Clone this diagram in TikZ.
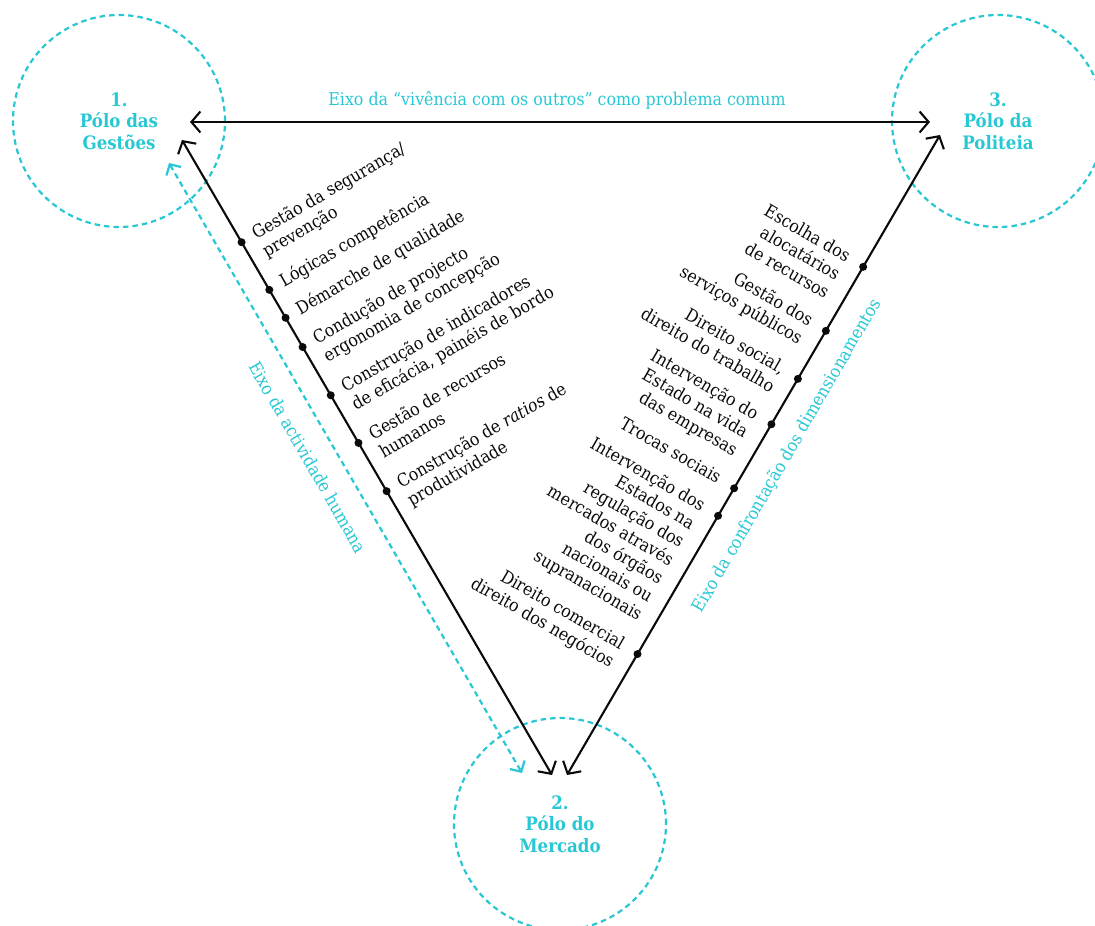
\documentclass[tikz,border=0pt]{standalone}
\usepackage{fontspec}
\IfFontExistsTF{DejaVu Serif Condensed}{%
  \setmainfont{DejaVu Serif Condensed}\def\labsize{17.6}\def\polesize{18.5}}{%
  \setmainfont{DejaVu Serif}\def\labsize{16}\def\polesize{16.5}}
\usetikzlibrary{arrows.meta,calc}
\definecolor{polecyan}{RGB}{40,199,212}
\definecolor{ink}{RGB}{10,10,10}
\begin{document}
\begin{tikzpicture}[x=1pt,y=1pt,
  pole/.style={circle, draw=polecyan, line width=2.2pt, dash pattern=on 5.5pt off 4pt,
    minimum size=212pt, inner sep=0pt, text=polecyan,
    font=\bfseries\fontsize{\polesize}{21.5}\selectfont, align=center},
  axisline/.style={line width=2.1pt, draw=ink,
    {Straight Barb[length=9pt,width=21pt]}-{Straight Barb[length=9pt,width=21pt]}},
  cyanaxis/.style={line width=2.2pt, draw=polecyan, dash pattern=on 5.5pt off 4pt,
    {Straight Barb[length=8pt,width=17pt]}-{Straight Barb[length=8pt,width=17pt]}},
  dot/.style={circle, fill=ink, inner sep=0pt, minimum size=8pt},
  leftlab/.style={rotate=30, anchor=base west, align=left, inner sep=0pt,
    font=\fontsize{\labsize}{21}\selectfont, text=ink},
  rightlab/.style={rotate=-30, anchor=base east, align=right, inner sep=0pt,
    font=\fontsize{\labsize}{21}\selectfont, text=ink},
  axislab/.style={text=polecyan, inner sep=0pt, font=\fontsize{\labsize}{21}\selectfont}
]
\useasboundingbox (0,0) rectangle (1095,-926);

% poles
\node[pole] (p1) at (119,-121) {1.\\Pólo das\\Gestões};
\node[pole] (p3) at (998,-121) {3.\\Pólo da\\Politeia};
\node[pole] (p2) at (560,-824) {2.\\Pólo do\\Mercado};

% arrow end points
\coordinate (T1) at (190,-122);
\coordinate (T3) at (930,-122);
\coordinate (L1) at (182,-140);
\coordinate (L2) at (552,-775);
\coordinate (R1) at (940,-135);
\coordinate (R2) at (567,-775);
\coordinate (C1) at (169,-163);
\coordinate (C2) at (522,-773);

\draw[axisline] (T1) -- (T3);
\draw[axisline] (L1) -- (L2);
\draw[axisline] (R1) -- (R2);
\draw[cyanaxis] (C1) -- (C2);

% axis labels
\node[axislab] (top) at (557,-100) {Eixo da “vivência com os outros” como problema comum};
\node[axislab, rotate=-60] (lax) at (308,-457) {Eixo da actividade humana};
\node[axislab, rotate=60] (rax) at (787,-456) {Eixo da confrontação dos dimensionamentos};

% left dots and labels (base anchor = baseline of last line)
\foreach \t/\n in {0.161/1,0.236/2,0.280/3,0.326/4,0.402/5,0.477/6,0.553/7}{
  \coordinate (ld\n) at ($(L1)!\t!(L2)$);
  \node[dot] (lp\n) at (ld\n) {};
}
\node[leftlab] (lt1) at ($(ld1)+(30:14)+(-60:26)$) {Gestão da segurança/\\prevenção};
\node[leftlab] (lt2) at ($(ld2)+(30:14)+(-60:5)$) {Lógicas competência};
\node[leftlab] (lt3) at ($(ld3)+(30:14)+(-60:5)$) {Démarche de qualidade};
\node[leftlab] (lt4) at ($(ld4)+(30:14)+(-60:26)$) {Condução de projecto\\ergonomia de concepção};
\node[leftlab] (lt5) at ($(ld5)+(30:14)+(-60:26)$) {Construção de indicadores\\de eficácia, painéis de bordo};
\node[leftlab] (lt6) at ($(ld6)+(30:14)+(-60:26)$) {Gestão de recursos\\humanos};
\node[leftlab] (lt7) at ($(ld7)+(30:14)+(-60:26)$) {Construção de \textit{ratios} de\\produtividade};

% right dots and labels
\foreach \t/\n in {0.206/1,0.306/2,0.381/3,0.452/4,0.552/5,0.595/6,0.811/7}{
  \coordinate (rd\n) at ($(R1)!\t!(R2)$);
  \node[dot] (rp\n) at (rd\n) {};
}
\node[rightlab] (rt1) at ($(rd1)+(150:17)+(240:47)$) {Escolha dos\\alocatários\\de recursos};
\node[rightlab] (rt2) at ($(rd2)+(150:17)+(240:26)$) {Gestão dos\\serviços públicos};
\node[rightlab] (rt3) at ($(rd3)+(150:17)+(240:26)$) {Direito social,\\direito do trabalho};
\node[rightlab] (rt4) at ($(rd4)+(150:17)+(240:47)$) {Intervenção do\\Estado na vida\\das empresas};
\node[rightlab] (rt5) at ($(rd5)+(150:17)+(240:5)$) {Trocas sociais};
\node[rightlab] (rt6) at ($(rd6)+(150:17)+(240:131)$) {Intervenção dos\\Estados na\\regulação dos\\mercados através\\dos órgãos\\nacionais ou\\supranacionais};
\node[rightlab] (rt7) at ($(rd7)+(150:17)+(240:26)$) {Direito comercial\\direito dos negócios};
\end{tikzpicture}
\end{document}
